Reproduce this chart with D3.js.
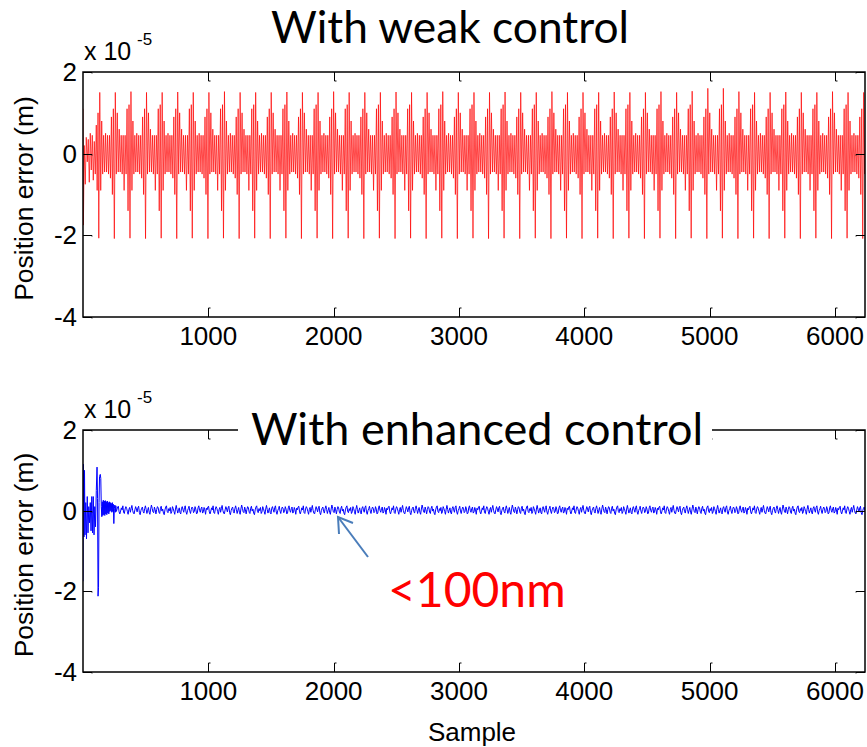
<!DOCTYPE html>
<html><head><meta charset="utf-8">
<script src="https://cdn.jsdelivr.net/npm/d3@7"></script>
<style>body{margin:0;background:#fff}svg{display:block}</style>
</head><body>
<svg id="c" width="867" height="747"></svg>
<script>
// ---------- data ----------
const xTicks = [1000, 2000, 3000, 4000, 5000, 6000];
const yTicks = [2, 0, -2, -4];
const xDomain = [0, 6240];
const yDomain = [-4, 2];
const titles = ["With weak control", "With enhanced control"];
const xLabel = "Sample";
const yLabel = "Position error (m)";
const annotation = "<100nm";

// weak control: samples before first spike (sample, value x1e-5)
const weakStart = [[0,1.1],[3,-1.75],[10,0.2],[18,-0.75],[26,0.4],[34,-0.2],[42,0.35],[50,-0.7],[58,0.5],[66,-0.4],[74,0.45],[82,-0.65],[90,0.3],[98,-0.5],[106,0.7],[113,-0.9],[120,1.0]];
// sample index of each large spike
const spikeSamples = [126,250,375,499,624,748,872,997,1121,1246,1370,1494,1619,1743,1868,1992,2116,2241,2365,2490,2614,2738,2863,2987,3112,3236,3360,3485,3609,3734,3858,3982,4107,4231,4356,4480,4604,4729,4853,4978,5102,5226,5351,5475,5600,5724,5848,5973,6097,6222];
const upPeaks = [1.5,1.5,1.52,1.5,1.5,1.51,1.5,1.5,1.52,1.5,1.5,1.5,1.51,1.5,1.5,1.52,1.5,1.5,1.5,1.51,1.5,1.5,1.52,1.5,1.5,1.5,1.51,1.5,1.5,1.52,1.5,1.5,1.5,1.51,1.5,1.5,1.52,1.5,1.53,1.6,1.6,1.52,1.5,1.5,1.51,1.5,1.5,1.52,1.5,1.5];
const downPeaks = [-2.07,-2.08,-2.07,-2.08,-2.07,-2.08,-2.07,-2.08,-2.07,-2.08,-2.07,-2.08,-2.07,-2.08,-2.07,-2.08,-2.07,-2.08,-2.07,-2.08,-2.07,-2.08,-2.07,-2.08,-2.07,-2.08,-2.07,-2.08,-2.07,-2.08,-2.07,-2.08,-2.07,-2.08,-2.07,-2.08,-2.07,-2.08,-2.07,-2.08,-2.07,-2.08,-2.07,-2.08,-2.07,-2.08,-2.07,-2.08,-2.07,-2.08];
// waveform between spikes (two alternating shapes), first two entries replaced by the peaks
const periodA = [-2.08,1.5,-0.9,0.8,-0.5,0.45,-0.45,0.5,-0.45,0.45,-0.5,0.45,-0.6,0.9,-1.0,1.1];
const periodB = [-2.08,1.5,-0.5,1.0,-0.45,0.6,-0.45,0.45,-0.5,0.45,-0.9,0.45,-0.5,1.1,-1.4,1.2];

// enhanced control: transient (sample, value)
const enhancedStart = [[0,-1.75],[3,1.15],[8,-0.65],[12,1.0],[16,-0.6],[22,0.2],[28,-0.7],[34,0.35],[40,-0.55],[46,0.1],[52,-0.3],[58,0.2],[64,-0.5],[70,0.35],[76,-0.55],[82,0.35],[88,-0.6],[94,0.1],[100,-0.4],[106,0.5],[112,1.08],[116,0.3],[120,-2.12],[124,-1.9],[128,0.2],[132,0.85],[138,0.9],[142,0.8],[146,0.1],[150,-0.15],[154,0.22],[158,-0.12],[162,0.26],[166,-0.1],[170,0.24],[174,-0.12],[178,0.25],[182,-0.08],[186,0.22],[190,-0.1],[194,0.24],[198,-0.06],[202,0.2],[206,-0.08],[210,0.22],[214,-0.02],[218,0.2],[222,0.0],[226,0.18],[230,-0.04],[234,0.2],[238,-0.02],[242,0.16],[246,-0.32],[250,0.05],[254,0.14],[258,-0.04],[262,0.12],[266,-0.02]];
// steady-state residual (x1e-5), repeated along the record
const enhancedNoise = [0.02,0.09,0.11,-0.03,-0.08,-0.01,0.07,0.02,0.12,-0.05,-0.07,0.04,0.10,0.06,-0.02,-0.09,0.03,0.08,-0.04,0.05,0.13,0.01,-0.06,-0.08,0.02,0.10,0.04,-0.03,0.07,0.11,-0.05,-0.10,0.00,0.06,0.09,-0.02,-0.06,0.05,0.12,0.03,-0.07,0.01,0.08,-0.04,-0.09,0.04,0.14,0.06,-0.03,-0.05,0.09,0.02,-0.08,0.03,0.10,0.07,-0.04,-0.07,0.06,0.11,-0.01,0.04,-0.06,-0.10,0.02,0.09,0.12,-0.02,-0.05,0.05,0.00,0.08,-0.07,-0.03,0.10,0.05,-0.02,-0.09,0.04,0.13,0.03,-0.06,0.01,0.07,-0.05,-0.08,0.06,0.10,0.02,-0.04,0.08,0.12,-0.03,-0.09,0.00,0.05,0.11,-0.01,-0.07,0.03,0.09,0.06,-0.05,-0.02,0.10,0.04,-0.08,-0.06,0.07,0.12,0.01,-0.04,0.05,0.09,-0.06,-0.03,0.08,0.02,-0.09,0.06];
const noiseFrom = 270, noiseStep = 6;

// ---------- build series ----------
const weak = weakStart.map(d => ({s: d[0], v: d[1]}));
spikeSamples.forEach((s0, k) => {
  const s1 = k + 1 < spikeSamples.length ? spikeSamples[k + 1] : s0 + 124;
  const tpl = k % 2 === 0 ? periodA : periodB;
  const step = (s1 - s0) / tpl.length;
  tpl.forEach((v, j) => {
    let val = v;
    if (j === 0) val = downPeaks[k];
    if (j === 1) val = upPeaks[k];
    weak.push({s: s0 + j * step, v: val});
  });
});
const enhanced = enhancedStart.map(d => ({s: d[0], v: d[1]}));
for (let i = 0, s = noiseFrom; s <= xDomain[1] + noiseStep; i++, s += noiseStep) {
  enhanced.push({s: s, v: enhancedNoise[i % enhancedNoise.length]});
}

// ---------- draw ----------
const svg = d3.select("#c");
const tickFont = "'Liberation Sans', Arial, sans-serif";
const titleFont = "Lato, 'Open Sans', sans-serif";

const panels = [
  {top: 72, bottom: 317, data: weak, color: "#ff0000", sw: 0.7, title: titles[0], xl: false},
  {top: 430, bottom: 672, data: enhanced, color: "#0000ff", sw: 1, title: titles[1], xl: true}
];
const left = 83, right = 865;

panels.forEach((p, idx) => {
  const x = d3.scaleLinear().domain(xDomain).range([left, right]);
  const y = d3.scaleLinear().domain(yDomain).range([p.bottom, p.top]);
  const g = svg.append("g");
  const cid = "clip" + idx;
  svg.append("clipPath").attr("id", cid).append("rect")
    .attr("x", left).attr("y", p.top).attr("width", right - left).attr("height", p.bottom - p.top);

  const line = d3.line().x(d => x(d.s)).y(d => y(d.v));
  g.append("path").datum(p.data).attr("clip-path", `url(#${cid})`)
    .attr("d", line).attr("fill", "none").attr("stroke", p.color)
    .attr("stroke-width", p.sw).attr("stroke-linejoin", "miter");

  // box
  g.append("rect").attr("x", left).attr("y", p.top).attr("width", right - left).attr("height", p.bottom - p.top)
    .attr("fill", "none").attr("stroke", "#000").attr("stroke-width", 1.5);

  // x ticks (inside, bottom and top)
  xTicks.forEach(t => {
    const xx = Math.round(x(t)) + 0.5;
    g.append("path").attr("d", `M${xx},${p.bottom}V${p.bottom - 9}h2`).attr("fill", "none").attr("stroke", "#000").attr("stroke-width", 1);
    g.append("path").attr("d", `M${xx},${p.top}V${p.top + 9}h2`).attr("fill", "none").attr("stroke", "#000").attr("stroke-width", 1);
    g.append("text").attr("x", x(t)).attr("y", p.bottom + 28).attr("text-anchor", "middle")
      .attr("font-family", tickFont).attr("font-size", 26).text(t);
  });
  // y ticks
  yTicks.forEach(t => {
    const yy = Math.round(y(t)) + 0.5;
    g.append("path").attr("d", `M${left},${yy}H${left + 9}v1`).attr("fill", "none").attr("stroke", "#000").attr("stroke-width", 1);
    g.append("path").attr("d", `M${right},${yy}H${right - 9}v1`).attr("fill", "none").attr("stroke", "#000").attr("stroke-width", 1);
    g.append("text").attr("x", 77).attr("y", y(t) + 9).attr("text-anchor", "end")
      .attr("font-family", tickFont).attr("font-size", 26).text(t);
  });
  // exponent label
  g.append("text").attr("x", 84).attr("y", p.top - 12)
    .attr("font-family", tickFont).attr("font-size", 25).text("x 10");
  g.append("text").attr("x", 137).attr("y", p.top - 27)
    .attr("font-family", tickFont).attr("font-size", 17).text("-5");

  // y label
  g.append("text").attr("transform", `translate(33,${(p.top + p.bottom) / 2 + 4}) rotate(-90)`)
    .attr("text-anchor", "middle").attr("font-family", tickFont).attr("font-size", 26.5).text(yLabel);

  if (p.xl) {
    g.append("text").attr("x", (left + right) / 2 - 2).attr("y", 741).attr("text-anchor", "middle")
      .attr("font-family", tickFont).attr("font-size", 26).text(xLabel);
  }
});

// titles
svg.append("text").attr("x", 450).attr("y", 43).attr("text-anchor", "middle")
  .attr("font-family", titleFont).attr("font-size", 44.3).attr("fill", "#000").text(titles[0]);
svg.append("rect").attr("x", 238).attr("y", 405).attr("width", 474).attr("height", 50).attr("fill", "#fff");
svg.append("text").attr("x", 477).attr("y", 445).attr("text-anchor", "middle")
  .attr("font-family", titleFont).attr("font-size", 45).attr("fill", "#000").text(titles[1]);

// annotation arrow and label
const arrowColor = "#4a7dba";
svg.append("path").attr("d", "M368,557L338,517").attr("stroke", arrowColor).attr("stroke-width", 2).attr("fill", "none");
svg.append("path").attr("d", "M353,523L338,517L339,534").attr("stroke", arrowColor).attr("stroke-width", 2)
  .attr("fill", "none").attr("stroke-linejoin", "miter");
svg.append("text").attr("x", 388).attr("y", 607).attr("font-family", titleFont).attr("font-size", 48)
  .attr("fill", "#ff0000").text(annotation);
</script>
</body></html>
